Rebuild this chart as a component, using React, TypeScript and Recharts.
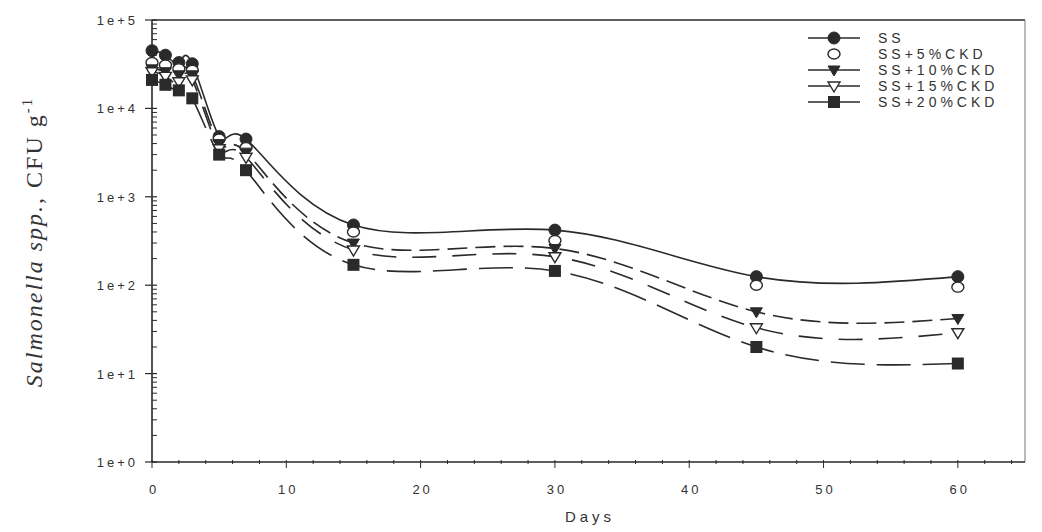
import { LineChart, Line, XAxis, YAxis, ReferenceLine, Label } from "recharts";

const days = [0, 1, 2, 3, 5, 7, 15, 30, 45, 60];
const ss = [45000, 40000, 33000, 32000, 4800, 4500, 480, 420, 125, 125];
const ss5 = [33000, 31000, 28000, 27000, 4500, 3600, 400, 320, 100, 95];
const ss10 = [28000, 26000, 24000, 24000, 4000, 3200, 300, 260, 50, 42];
const ss15 = [26000, 23000, 20000, 21000, 3500, 2800, 250, 210, 33, 29];
const ss20 = [21000, 18500, 16000, 13000, 3000, 2000, 170, 145, 20, 13];

const xTicks = [0, 2, 4, 6, 8, 10, 12, 14, 16, 18, 20, 22, 24, 26, 28, 30, 32, 34, 36, 38, 40, 42, 44, 46, 48, 50, 52, 54, 56, 58, 60, 62, 64];
const yTicks = [
  1, 2, 3, 4, 5, 6, 7, 8, 9,
  10, 20, 30, 40, 50, 60, 70, 80, 90,
  100, 200, 300, 400, 500, 600, 700, 800, 900,
  1000, 2000, 3000, 4000, 5000, 6000, 7000, 8000, 9000,
  10000, 20000, 30000, 40000, 50000, 60000, 70000, 80000, 90000,
  100000,
];

const data = days.map((d, i) => ({
  day: d,
  ss: ss[i],
  ss5: ss5[i],
  ss10: ss10[i],
  ss15: ss15[i],
  ss20: ss20[i],
}));

const INK = "#2a2a2a";
const tickFont = { fontFamily: "Arial, 'Liberation Sans', sans-serif", fontSize: 13, letterSpacing: 3, fill: "#333" };

type Shape = "filledCircle" | "openCircle" | "filledTri" | "openTri" | "filledSquare";

function marker(shape: Shape, cx: number, cy: number, key?: string) {
  switch (shape) {
    case "filledCircle":
      return <circle key={key} cx={cx} cy={cy} r={6} fill={INK} stroke={INK} />;
    case "openCircle":
      return <ellipse key={key} cx={cx} cy={cy} rx={6} ry={5} fill="#fff" stroke={INK} strokeWidth={1.4} />;
    case "filledTri":
      return <path key={key} d={`M${cx - 6},${cy - 4} L${cx + 6},${cy - 4} L${cx},${cy + 6} Z`} fill={INK} stroke={INK} />;
    case "openTri":
      return <path key={key} d={`M${cx - 6},${cy - 4} L${cx + 6},${cy - 4} L${cx},${cy + 6} Z`} fill="#fff" stroke={INK} strokeWidth={1.4} />;
    default:
      return <rect key={key} x={cx - 6} y={cy - 6} width={12} height={12} fill={INK} />;
  }
}

const series: { key: string; name: string; shape: Shape; dash?: string; line: boolean }[] = [
  { key: "ss", name: "SS", shape: "filledCircle", line: true },
  { key: "ss5", name: "SS+5%CKD", shape: "openCircle", line: false },
  { key: "ss10", name: "SS+10%CKD", shape: "filledTri", dash: "20 8", line: true },
  { key: "ss15", name: "SS+15%CKD", shape: "openTri", dash: "24 16", line: true },
  { key: "ss20", name: "SS+20%CKD", shape: "filledSquare", dash: "34 12", line: true },
];

const YTick = (props: any) => {
  const { x, y, payload } = props;
  const v = payload.value as number;
  const exp = Math.log10(v);
  const major = Math.abs(exp - Math.round(exp)) < 1e-9;
  return (
    <g>
      {major ? (
        <>
          <line x1={x - 7} x2={x + 5} y1={y} y2={y} stroke={INK} strokeWidth={1.2} />
          <text x={x - 14} y={y + 5} textAnchor="end" {...tickFont}>{`1e+${Math.round(exp)}`}</text>
        </>
      ) : (
        <line x1={x} x2={x + 5} y1={y} y2={y} stroke={INK} strokeWidth={1} />
      )}
    </g>
  );
};

const XTick = (props: any) => {
  const { x, y, payload } = props;
  const v = payload.value as number;
  const major = v % 10 === 0;
  return (
    <g>
      <line x1={x} x2={x} y1={y - 4} y2={major ? y + 4 : y} stroke={INK} strokeWidth={1} />
      {major && (
        <text x={x + 2} y={y + 30} textAnchor="middle" {...tickFont}>{v}</text>
      )}
    </g>
  );
};

const LegendBox = () => (
  <svg width={240} height={100} style={{ position: "absolute", left: 802, top: 28 }}>
    {series.map((s, i) => {
      const y = 10 + i * 16;
      return (
        <g key={s.key}>
          {s.line && <line x1={6} x2={58} y1={y} y2={y} stroke={INK} strokeWidth={1.6} />}
          {marker(s.shape, 32, y)}
          <text x={76} y={y + 5} {...tickFont} fontSize={14} letterSpacing={4}>{s.name}</text>
        </g>
      );
    })}
  </svg>
);

export default function App() {
  return (
    <div style={{ position: "absolute", left: 0, top: 0, width: 1042, height: 532, background: "#fff" }}>
      <LineChart width={1042} height={532} data={data} margin={{ top: 20, right: 17, left: 0, bottom: 20 }}>
        <XAxis
          dataKey="day"
          type="number"
          domain={[0, 65]}
          ticks={xTicks}
          interval={0}
          tickLine={false}
          tickSize={0}
          tick={<XTick />}
          axisLine={{ stroke: INK, strokeWidth: 1.6 }}
          height={50}
        >
          <Label
            content={() => (
              <text x={590} y={522} textAnchor="middle" fontFamily="Arial, sans-serif" fontSize={15} letterSpacing={4} fill="#333">
                Days
              </text>
            )}
          />
        </XAxis>
        <YAxis
          scale="log"
          domain={[1, 100000]}
          allowDataOverflow
          ticks={yTicks}
          interval={0}
          tickLine={false}
          tickSize={0}
          tickMargin={0}
          tick={<YTick />}
          axisLine={{ stroke: INK, strokeWidth: 1.6 }}
          width={152}
        >
          <Label
            content={() => (
              <text
                transform="translate(42,242) rotate(-90)"
                textAnchor="middle"
                fontFamily="'Liberation Serif', 'Times New Roman', serif"
                fontSize={24}
                letterSpacing={2}
                fill="#333"
              >
                <tspan fontStyle="italic">Salmonella spp.</tspan>
                <tspan>, CFU g</tspan>
                <tspan dy={-10} fontSize={15}>-1</tspan>
              </text>
            )}
          />
        </YAxis>
        <ReferenceLine y={100000} stroke={INK} strokeWidth={1.6} />
        <ReferenceLine x={65} stroke="#777" strokeWidth={1} />
        {series.map((s) => (
          <Line
            key={s.key}
            dataKey={s.key}
            name={s.name}
            type="natural"
            stroke={s.line ? INK : "none"}
            strokeWidth={1.6}
            strokeDasharray={s.dash}
            isAnimationActive={false}
            dot={(p: any) => marker(s.shape, p.cx, p.cy, `${s.key}-${p.index}`)}
            activeDot={false}
          />
        ))}
      </LineChart>
      <LegendBox />
    </div>
  );
}
